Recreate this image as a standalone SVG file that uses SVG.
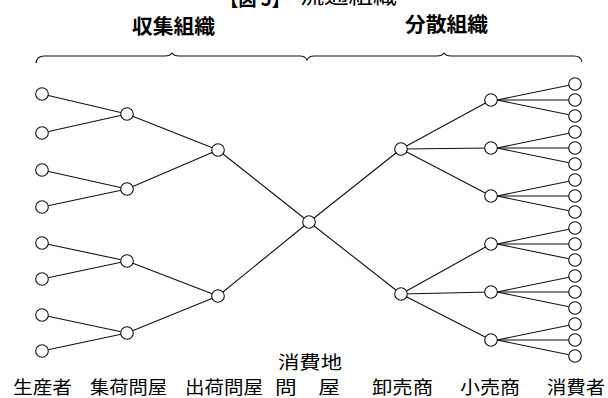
<svg xmlns="http://www.w3.org/2000/svg" width="608" height="398" viewBox="0 0 608 398">
<style>
  .n { fill: #fff; stroke: #111; stroke-width: 1.1; }
  .e { stroke: #111; stroke-width: 1.1; fill: none; }
  .t { font-family: "Noto Sans CJK JP", "Noto Sans CJK SC", sans-serif; fill: #000; }
  .h { font-size: 20px; font-weight: bold; }
  .b { font-size: 18px; }
</style>
<rect width="608" height="398" fill="#fff"/>
<g id="title">
  <text class="t" x="220" y="6" font-size="20" font-weight="bold" textLength="70" lengthAdjust="spacingAndGlyphs">【図 5】</text>
  <text class="t" x="300" y="3" font-size="22" textLength="97" lengthAdjust="spacingAndGlyphs">流通組織</text>
</g>
<g id="headers">
  <text class="t h" x="132" y="34" textLength="83" lengthAdjust="spacingAndGlyphs">収集組織</text>
  <text class="t h" x="405" y="32" textLength="83" lengthAdjust="spacingAndGlyphs">分散組織</text>
  <path class="e" d="M36,63 Q37,56 44,56 L165,56 Q170,56 172,53 Q174,56 179,56 L300,56 Q305,56 307,60 Q309,56 314,56 L437,56 Q442,56 444,53 Q446,56 451,56 L574,56 Q581,56 582,62"/>
</g>
<g id="connectors">
  <line class="e" x1="42" y1="94" x2="127" y2="114"/>
  <line class="e" x1="42" y1="133" x2="127" y2="114"/>
  <line class="e" x1="42" y1="170" x2="127" y2="189"/>
  <line class="e" x1="42" y1="207" x2="127" y2="189"/>
  <line class="e" x1="42" y1="243" x2="127" y2="261"/>
  <line class="e" x1="42" y1="279" x2="127" y2="261"/>
  <line class="e" x1="42" y1="315" x2="127" y2="333"/>
  <line class="e" x1="42" y1="351" x2="127" y2="333"/>
  <line class="e" x1="127" y1="114" x2="218" y2="150"/>
  <line class="e" x1="127" y1="189" x2="218" y2="150"/>
  <line class="e" x1="127" y1="261" x2="218" y2="296"/>
  <line class="e" x1="127" y1="333" x2="218" y2="296"/>
  <line class="e" x1="218" y1="150" x2="309" y2="222"/>
  <line class="e" x1="218" y1="296" x2="309" y2="222"/>
  <line class="e" x1="309" y1="222" x2="401" y2="149"/>
  <line class="e" x1="309" y1="222" x2="401" y2="294"/>
  <line class="e" x1="401" y1="149" x2="491" y2="100"/>
  <line class="e" x1="401" y1="149" x2="491" y2="148"/>
  <line class="e" x1="401" y1="149" x2="491" y2="196"/>
  <line class="e" x1="401" y1="294" x2="491" y2="244"/>
  <line class="e" x1="401" y1="294" x2="491" y2="292"/>
  <line class="e" x1="401" y1="294" x2="491" y2="340"/>
  <line class="e" x1="497" y1="100" x2="575" y2="84"/>
  <line class="e" x1="497" y1="100" x2="575" y2="100"/>
  <line class="e" x1="497" y1="100" x2="575" y2="116"/>
  <line class="e" x1="497" y1="148" x2="575" y2="132"/>
  <line class="e" x1="497" y1="148" x2="575" y2="148"/>
  <line class="e" x1="497" y1="148" x2="575" y2="164"/>
  <line class="e" x1="497" y1="196" x2="575" y2="180"/>
  <line class="e" x1="497" y1="196" x2="575" y2="196"/>
  <line class="e" x1="497" y1="196" x2="575" y2="212"/>
  <line class="e" x1="497" y1="244" x2="575" y2="228"/>
  <line class="e" x1="497" y1="244" x2="575" y2="244"/>
  <line class="e" x1="497" y1="244" x2="575" y2="260"/>
  <line class="e" x1="497" y1="292" x2="575" y2="276"/>
  <line class="e" x1="497" y1="292" x2="575" y2="292"/>
  <line class="e" x1="497" y1="292" x2="575" y2="308"/>
  <line class="e" x1="497" y1="340" x2="575" y2="324"/>
  <line class="e" x1="497" y1="340" x2="575" y2="340"/>
  <line class="e" x1="497" y1="340" x2="575" y2="356"/>
</g>
<g id="producers">
  <circle class="n" cx="42" cy="94" r="6.3"/>
  <circle class="n" cx="42" cy="133" r="6.3"/>
  <circle class="n" cx="42" cy="170" r="6.3"/>
  <circle class="n" cx="42" cy="207" r="6.3"/>
  <circle class="n" cx="42" cy="243" r="6.3"/>
  <circle class="n" cx="42" cy="279" r="6.3"/>
  <circle class="n" cx="42" cy="315" r="6.3"/>
  <circle class="n" cx="42" cy="351" r="6.3"/>
</g>
<g id="collectors">
  <circle class="n" cx="127" cy="114" r="6.3"/>
  <circle class="n" cx="127" cy="189" r="6.3"/>
  <circle class="n" cx="127" cy="261" r="6.3"/>
  <circle class="n" cx="127" cy="333" r="6.3"/>
</g>
<g id="shippers">
  <circle class="n" cx="218" cy="150" r="6.3"/>
  <circle class="n" cx="218" cy="296" r="6.3"/>
</g>
<g id="center">
  <circle class="n" cx="309" cy="222" r="6.3"/>
</g>
<g id="wholesalers">
  <circle class="n" cx="401" cy="149" r="6.3"/>
  <circle class="n" cx="401" cy="294" r="6.3"/>
</g>
<g id="retailers">
  <circle class="n" cx="491" cy="100" r="6.3"/>
  <circle class="n" cx="491" cy="148" r="6.3"/>
  <circle class="n" cx="491" cy="196" r="6.3"/>
  <circle class="n" cx="491" cy="244" r="6.3"/>
  <circle class="n" cx="491" cy="292" r="6.3"/>
  <circle class="n" cx="491" cy="340" r="6.3"/>
</g>
<g id="consumers">
  <circle class="n" cx="575" cy="84" r="6.3"/>
  <circle class="n" cx="575" cy="100" r="6.3"/>
  <circle class="n" cx="575" cy="116" r="6.3"/>
  <circle class="n" cx="575" cy="132" r="6.3"/>
  <circle class="n" cx="575" cy="148" r="6.3"/>
  <circle class="n" cx="575" cy="164" r="6.3"/>
  <circle class="n" cx="575" cy="180" r="6.3"/>
  <circle class="n" cx="575" cy="196" r="6.3"/>
  <circle class="n" cx="575" cy="212" r="6.3"/>
  <circle class="n" cx="575" cy="228" r="6.3"/>
  <circle class="n" cx="575" cy="244" r="6.3"/>
  <circle class="n" cx="575" cy="260" r="6.3"/>
  <circle class="n" cx="575" cy="276" r="6.3"/>
  <circle class="n" cx="575" cy="292" r="6.3"/>
  <circle class="n" cx="575" cy="308" r="6.3"/>
  <circle class="n" cx="575" cy="324" r="6.3"/>
  <circle class="n" cx="575" cy="340" r="6.3"/>
  <circle class="n" cx="575" cy="356" r="6.3"/>
</g>
<g id="labels">
  <text class="t b" x="13" y="394" textLength="59" lengthAdjust="spacingAndGlyphs">生産者</text>
  <text class="t b" x="90" y="394" textLength="77" lengthAdjust="spacingAndGlyphs">集荷問屋</text>
  <text class="t b" x="185" y="394" textLength="78" lengthAdjust="spacingAndGlyphs">出荷問屋</text>
  <text class="t b" x="278" y="369" textLength="64" lengthAdjust="spacingAndGlyphs">消費地</text>
  <text class="t b" x="275" y="394" textLength="65" lengthAdjust="spacingAndGlyphs">問　屋</text>
  <text class="t b" x="372" y="394" textLength="61" lengthAdjust="spacingAndGlyphs">卸売商</text>
  <text class="t b" x="460" y="394" textLength="60" lengthAdjust="spacingAndGlyphs">小売商</text>
  <text class="t b" x="547" y="394" textLength="58" lengthAdjust="spacingAndGlyphs">消費者</text>
</g>
</svg>
